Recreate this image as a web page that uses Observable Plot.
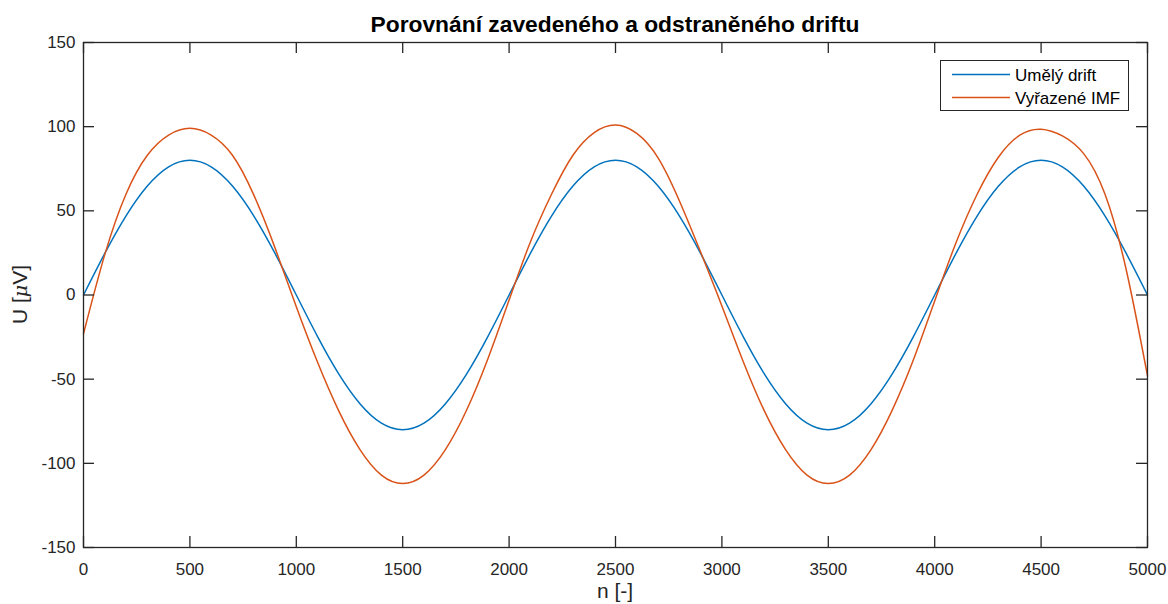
<!DOCTYPE html>
<html>
<head>
<meta charset="utf-8">
<script src="https://cdn.jsdelivr.net/npm/d3@7"></script>
<script src="https://cdn.jsdelivr.net/npm/@observablehq/plot@0.6"></script>
<style>
  html, body { margin: 0; padding: 0; background: #fff; }
  #chart { width: 1168px; height: 604px; }
</style>
</head>
<body>
<div id="chart"></div>
<script>
// ---- data ----
const title = "Porovnání zavedeného a odstraněného driftu";
const xLabel = "n [-]";
const yLabelParts = ["U [", "μ", "V]"];
const seriesNames = ["Umělý drift", "Vyřazené IMF"];
const seriesColors = ["#0072BD", "#D95319"];

const samples = [0,100,200,300,400,500,600,700,800,900,
  1000,1100,1200,1300,1400,1500,1600,1700,1800,1900,
  2000,2100,2200,2300,2400,2500,2600,2700,2800,2900,
  3000,3100,3200,3300,3400,3500,3600,3700,3800,3900,
  4000,4100,4200,4300,4400,4500,4600,4700,4800,4900,5000];

const umelyDrift = [0,24.7,47,64.7,76.1,80,76.1,64.7,47,24.7,
  0,-24.7,-47,-64.7,-76.1,-80,-76.1,-64.7,-47,-24.7,
  0,24.7,47,64.7,76.1,80,76.1,64.7,47,24.7,
  0,-24.7,-47,-64.7,-76.1,-80,-76.1,-64.7,-47,-24.7,
  0,24.7,47,64.7,76.1,80,76.1,64.7,47,24.7,0];

const vyrazeneIMF = [-23,24,60,83,95,99,95,83,59.5,28,
  -7,-40,-69,-92,-107,-112,-107,-92,-68.5,-38,
  -3,31.5,60,83,96.5,101,96,81.5,56,25.5,
  -6.5,-39.5,-69,-92,-107,-112,-107,-92,-68.5,-38.5,
  -3.5,31,60,82,95,98.5,94.5,84,60,15,-48];

const xTicks = [0,500,1000,1500,2000,2500,3000,3500,4000,4500,5000];
const yTicks = [-150,-100,-50,0,50,100,150];

// ---- build ----
const W = 1168, H = 604;
const mL = 83, mR = 21, mT = 42, mB = 57;
const fw = W - mL - mR, fh = H - mT - mB;
const axisColor = "#262626";
const font = "'Liberation Sans', Arial, Helvetica, sans-serif";

const series = [umelyDrift, vyrazeneIMF].map((vals, i) =>
  samples.map((n, j) => ({n, v: vals[j], s: seriesNames[i]})));

const chart = Plot.plot({
  width: W, height: H,
  marginLeft: mL, marginRight: mR, marginTop: mT, marginBottom: mB,
  x: {domain: [0, 5000]},
  y: {domain: [-150, 150]},
  style: {fontFamily: font, fontSize: "17px", color: axisColor, background: "#fff"},
  marks: [
    Plot.line(series[0], {x: "n", y: "v", stroke: seriesColors[0], strokeWidth: 1.5, curve: "natural"}),
    Plot.line(series[1], {x: "n", y: "v", stroke: seriesColors[1], strokeWidth: 1.5, curve: "natural"}),
    Plot.frame({stroke: axisColor, strokeWidth: 1.3}),
    Plot.tickX(xTicks, {x: d => d, stroke: axisColor, strokeWidth: 1.3, insetTop: fh - 11}),
    Plot.tickX(xTicks, {x: d => d, stroke: axisColor, strokeWidth: 1.3, insetBottom: fh - 11}),
    Plot.tickY(yTicks, {y: d => d, stroke: axisColor, strokeWidth: 1.3, insetRight: fw - 11}),
    Plot.tickY(yTicks, {y: d => d, stroke: axisColor, strokeWidth: 1.3, insetLeft: fw - 11}),
    Plot.axisX(xTicks, {tickSize: 0, tickPadding: 15, fontSize: 17, label: null, tickFormat: d => String(d)}),
    Plot.axisY(yTicks, {tickSize: 0, tickPadding: 8, fontSize: 17, label: null, tickFormat: d => String(d)})
  ]
});

document.getElementById("chart").appendChild(chart);

const svg = d3.select(chart);
// title
svg.append("text")
  .attr("x", mL + fw / 2).attr("y", 31.5)
  .attr("text-anchor", "middle")
  .attr("font-family", font).attr("font-weight", "bold").attr("font-size", 22.8)
  .attr("fill", "#000")
  .text(title);
// x label
svg.append("text")
  .attr("x", mL + fw / 2).attr("y", 598)
  .attr("text-anchor", "middle")
  .attr("font-family", font).attr("font-size", 21)
  .attr("fill", axisColor)
  .text(xLabel);
// y label
const yl = svg.append("text")
  .attr("transform", `translate(27,${mT + fh / 2}) rotate(-90)`)
  .attr("text-anchor", "middle")
  .attr("font-family", font).attr("font-size", 21)
  .attr("fill", axisColor);
yl.append("tspan").text(yLabelParts[0]);
yl.append("tspan").attr("font-style", "italic").attr("font-family", "'DejaVu Serif', serif").attr("font-size", 19).text(yLabelParts[1]);
yl.append("tspan").text(yLabelParts[2]);

// legend
const lg = svg.append("g");
lg.append("rect").attr("x", 940.5).attr("y", 60.5).attr("width", 188).attr("height", 50)
  .attr("fill", "#fff").attr("stroke", axisColor).attr("stroke-width", 1);
seriesNames.forEach((name, i) => {
  const cy = 74.5 + i * 23;
  lg.append("line").attr("x1", 952).attr("x2", 1010).attr("y1", cy).attr("y2", cy)
    .attr("stroke", seriesColors[i]).attr("stroke-width", 1.5);
  lg.append("text").attr("x", 1015).attr("y", cy + 6)
    .attr("text-anchor", "start")
    .attr("font-family", font).attr("font-size", 17).attr("fill", "#000")
    .text(name);
});
</script>
</body>
</html>
